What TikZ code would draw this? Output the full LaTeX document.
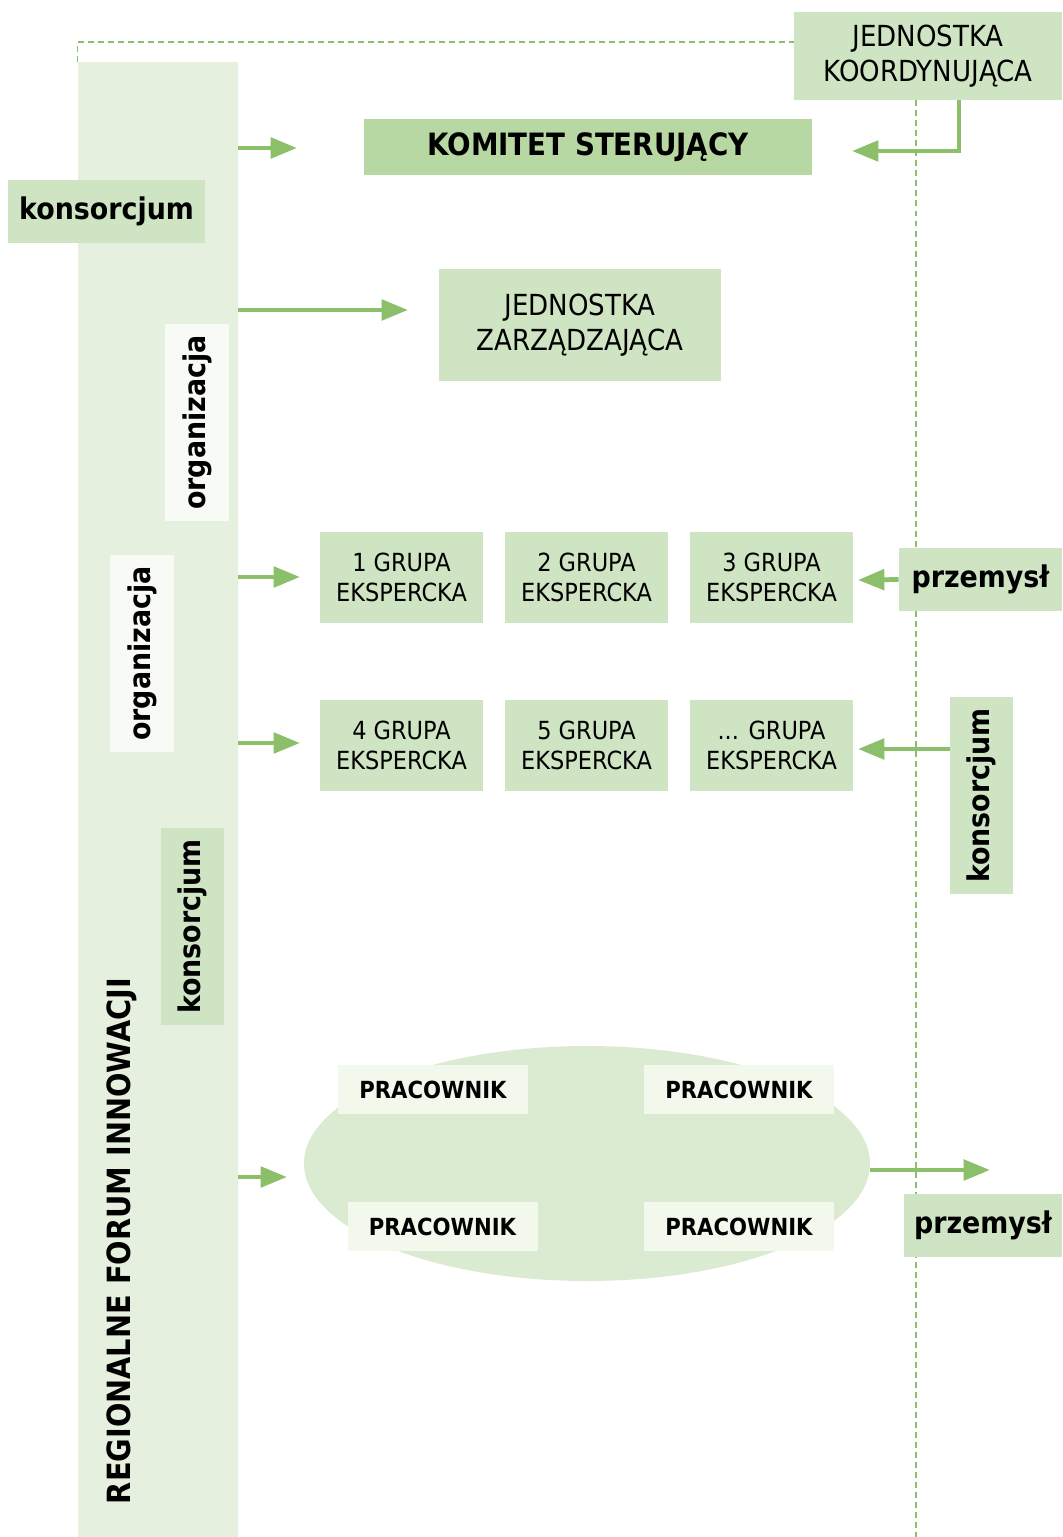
\documentclass[tikz,border=0pt]{standalone}
\usepackage{fontspec}
\setmainfont{DejaVu Sans}[FakeStretch=0.9]
\usetikzlibrary{arrows.meta,shapes.geometric,backgrounds}

\definecolor{barfill}{HTML}{E5F0DF}
\definecolor{boxfill}{HTML}{CFE4C3}
\definecolor{komfill}{HTML}{B8D8A3}
\definecolor{palefill}{HTML}{F8FAF5}
\definecolor{workfill}{HTML}{F2F8EB}
\definecolor{ellfill}{HTML}{DBEBD1}
\definecolor{linegreen}{HTML}{8CBF6A}

\tikzset{
    px/.style 2 args={minimum width=#1*0.02cm, minimum height=#2*0.02cm},
    box/.style={fill=boxfill, inner sep=0pt, align=center},
    boxtxt/.style={font=\fontsize{16.5}{20}\selectfont},
    grptxt/.style={font=\fontsize{14.2}{17}\selectfont},
    tagtxt/.style={font=\bfseries\fontsize{17}{20}\selectfont},
    flow/.style={draw=linegreen, line width=2.7pt, -{Triangle[length=15pt,width=11.5pt]}},
    guide/.style={draw=linegreen, line width=0.8pt, dash pattern=on 3.4pt off 2.3pt}
}

\begin{document}
\begin{tikzpicture}[x=0.02cm, y=-0.02cm]
    \useasboundingbox (0,0) rectangle (1062,1537);

    % forum bar
    \node[box, fill=barfill, px={160}{1475}] (bar) at (158,799.5) {};
    \node[rotate=90, inner sep=0pt, font=\bfseries\fontsize{18.2}{21}\selectfont] (rfi) at (122,1241) {REGIONALNE FORUM INNOWACJI};

    % top level
    \node[box, boxtxt, px={268}{88}] (jk) at (928,56) {JEDNOSTKA\\KOORDYNUJĄCA};
    \node[box, tagtxt, font=\bfseries\fontsize{17.5}{20}\selectfont, fill=komfill, px={448}{56}] (kom) at (588,147) {KOMITET STERUJĄCY};
    \node[box, tagtxt, px={197}{63}] (konL) at (106.5,211.5) {konsorcjum};
    \node[box, boxtxt, px={282}{112}] (jz) at (580,325) {JEDNOSTKA\\ZARZĄDZAJĄCA};

    % side tags
    \node[box, tagtxt, fill=palefill, rotate=90, px={197}{64}] (org1) at (197,422.5) {organizacja};
    \node[box, tagtxt, fill=palefill, rotate=90, px={197}{64}] (org2) at (142,653.5) {organizacja};
    \node[box, tagtxt, rotate=90, px={197}{63}] (konM) at (192.5,926.5) {konsorcjum};
    \node[box, tagtxt, rotate=90, px={197}{63}] (konR) at (981.5,795.5) {konsorcjum};
    \node[box, tagtxt, px={163}{63}] (przemA) at (980.5,579.5) {przemysł};
    \node[box, tagtxt, px={158}{63}] (przemB) at (983,1225.5) {przemysł};

    % expert groups
    \node[box, grptxt, px={163}{91}] (g1) at (401.5,577.5) {1 GRUPA\\EKSPERCKA};
    \node[box, grptxt, px={163}{91}] (g2) at (586.5,577.5) {2 GRUPA\\EKSPERCKA};
    \node[box, grptxt, px={163}{91}] (g3) at (771.5,577.5) {3 GRUPA\\EKSPERCKA};
    \node[box, grptxt, px={163}{91}] (g4) at (401.5,745.5) {4 GRUPA\\EKSPERCKA};
    \node[box, grptxt, px={163}{91}] (g5) at (586.5,745.5) {5 GRUPA\\EKSPERCKA};
    \node[box, grptxt, px={163}{91}] (g6) at (771.5,745.5) {... GRUPA\\EKSPERCKA};

    % staff
    \node[ellipse, fill=ellfill, inner sep=0pt, px={566}{235}] (ell) at (587,1163.5) {};
    \node[box, fill=workfill, font=\bfseries\fontsize{13.4}{16}\selectfont, px={190}{49}] (p1) at (433,1089.5) {PRACOWNIK};
    \node[box, fill=workfill, font=\bfseries\fontsize{13.4}{16}\selectfont, px={190}{49}] (p2) at (739,1089.5) {PRACOWNIK};
    \node[box, fill=workfill, font=\bfseries\fontsize{13.4}{16}\selectfont, px={190}{49}] (p3) at (442.5,1226.5) {PRACOWNIK};
    \node[box, fill=workfill, font=\bfseries\fontsize{13.4}{16}\selectfont, px={190}{49}] (p4) at (739,1226.5) {PRACOWNIK};

    % dashed frame
    \coordinate (dtop) at (794,42);
    \coordinate (vbot) at (916,1537);
    \begin{scope}[on background layer]
        \draw[guide] (bar.north west) |- (dtop);
        \draw[guide] (jk.south -| vbot) -- (vbot);
    \end{scope}

    % arrows
    \coordinate (e1) at (297,148);
    \coordinate (e2) at (408,310);
    \coordinate (e3) at (300,577);
    \coordinate (e4) at (300,743);
    \coordinate (e5) at (287,1177);
    \coordinate (e6) at (852,151);
    \coordinate (e7) at (858,580);
    \coordinate (e8) at (858,749);
    \coordinate (e9) at (990,1170);
    \draw[flow] (bar.east |- e1) -- (e1);
    \draw[flow] (bar.east |- e2) -- (e2);
    \draw[flow] (bar.east |- e3) -- (e3);
    \draw[flow] (bar.east |- e4) -- (e4);
    \draw[flow] (bar.east |- e5) -- (e5);
    \draw[flow] ([xshift=0.62cm]jk.south) |- (e6);
    \draw[flow] (przemA.west) -- (e7);
    \draw[flow] (konR.north |- e8) -- (e8);
    \draw[flow] (ell.east |- e9) -- (e9);
\end{tikzpicture}
\end{document}
